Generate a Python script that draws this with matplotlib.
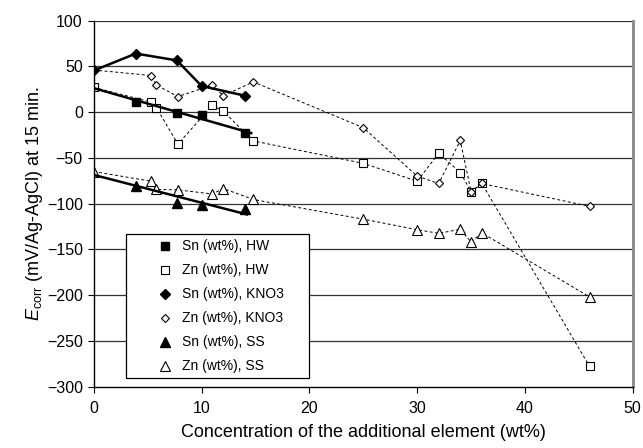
import numpy as np
import matplotlib
matplotlib.use('Agg')
import matplotlib.pyplot as plt
from matplotlib.patches import Rectangle

plt.rcParams['font.family'] = ['Liberation Sans', 'DejaVu Sans']
plt.rcParams['mathtext.fontset'] = 'custom'
plt.rcParams['mathtext.rm'] = 'Liberation Sans'
plt.rcParams['mathtext.it'] = 'Liberation Sans:italic'

# data
sn_x = [0, 3.9, 7.7, 10, 14]
sn_hw = [27, 11, -1, -3.5, -22.5]
sn_kno3 = [45.5, 64, 56.5, 28.5, 18]
sn_ss = [-65, -80.5, -99, -101, -106]

zn_x = [0, 5.3, 5.8, 7.8, 11, 12, 14.8, 25, 30, 32, 34, 35, 36, 46]
zn_hw = [27, 11, 5, -35, 7.5, 1, -31.5, -56, -75.5, -45, -66, -87, -78, -278]
zn_kno3 = [46, 40, 29.5, 17, 29.5, 18, 33, -17, -70, -78, -31, -87, -78, -103]
zn_ss = [-65, -75.5, -84.5, -85, -89.5, -83.5, -95.5, -117, -128.5, -132.5, -128, -142, -132, -202]

fig = plt.figure(figsize=(6.43, 4.48), dpi=100)
ax = fig.add_axes([0.146, 0.137, 0.838, 0.817])
ax.set_xlim(0, 50)
ax.set_ylim(-300, 100)

# horizontal grid
for yv in range(-250, 101, 50):
    ax.axhline(yv, color='#333333', linewidth=0.9, zorder=0)

dash = dict(color='black', linewidth=0.7, linestyle=(0, (3, 2.5)))

# Zn series: dashed connecting lines, open markers
ax.plot(zn_x, zn_hw, marker='s', markersize=5.5, markerfacecolor='white',
        markeredgecolor='black', markeredgewidth=0.8, label='Zn (wt%), HW', **dash)
ax.plot(zn_x, zn_kno3, marker='D', markersize=4.5, markerfacecolor='white',
        markeredgecolor='black', markeredgewidth=0.8, label='Zn (wt%), KNO3', **dash)
ax.plot(zn_x, zn_ss, marker='^', markersize=6.5, markerfacecolor='white',
        markeredgecolor='black', markeredgewidth=0.8, label='Zn (wt%), SS', **dash)

# Sn series
ax.plot(sn_x[1:], sn_hw[1:], 's', color='black', markersize=6, label='Sn (wt%), HW', zorder=4)
ax.plot(sn_x, sn_kno3, marker='D', color='black', markersize=5, linewidth=1.8,
        label='Sn (wt%), KNO3', zorder=4)
ax.plot(sn_x[1:], sn_ss[1:], '^', color='black', markersize=7, label='Sn (wt%), SS', zorder=4)

# linear trend lines for HW and SS Sn
for ys, xend in [(sn_hw, 14.6), (sn_ss, 14.2)]:
    k, b = np.polyfit(sn_x, ys, 1)
    xx = np.array([0, xend])
    ax.plot(xx, k * xx + b, color='black', linewidth=1.8, zorder=3)

ax.set_xticks(np.arange(0, 51, 10))
ax.set_yticks(np.arange(-300, 101, 50))
ax.tick_params(axis='both', direction='out', length=4, width=0.8, labelsize=11.5, pad=4)
ax.tick_params(axis='x', pad=6)

ax.spines['top'].set_visible(False)
ax.spines['right'].set_color('#888888')
ax.spines['right'].set_linewidth(2)
ax.spines['left'].set_linewidth(1)
ax.spines['bottom'].set_linewidth(1)

ax.set_xlabel('Concentration of the additional element (wt%)', fontsize=13, labelpad=6)
ax.set_ylabel(r'$E_{\mathrm{corr}}$ (mV/Ag-AgCl) at 15 min.', fontsize=13, labelpad=1)

# legend box
box = Rectangle((0.059, 0.023), 0.34, 0.394, transform=ax.transAxes,
                facecolor='white', edgecolor='black', linewidth=0.9, zorder=5)
ax.add_patch(box)

handles, labels = ax.get_legend_handles_labels()
order = ['Sn (wt%), HW', 'Zn (wt%), HW', 'Sn (wt%), KNO3', 'Zn (wt%), KNO3',
         'Sn (wt%), SS', 'Zn (wt%), SS']
hmap = dict(zip(labels, handles))
leg = ax.legend([hmap[l] for l in order], order, loc='upper left',
                bbox_to_anchor=(0.1137, 0.402), borderaxespad=0, borderpad=0,
                fontsize=10, frameon=False, handlelength=1.4, handletextpad=0.53,
                labelspacing=0.72)
leg.set_zorder(6)
for h in leg.legend_handles:
    h.set_linestyle('none')

fig.savefig('out.png', dpi=100)
